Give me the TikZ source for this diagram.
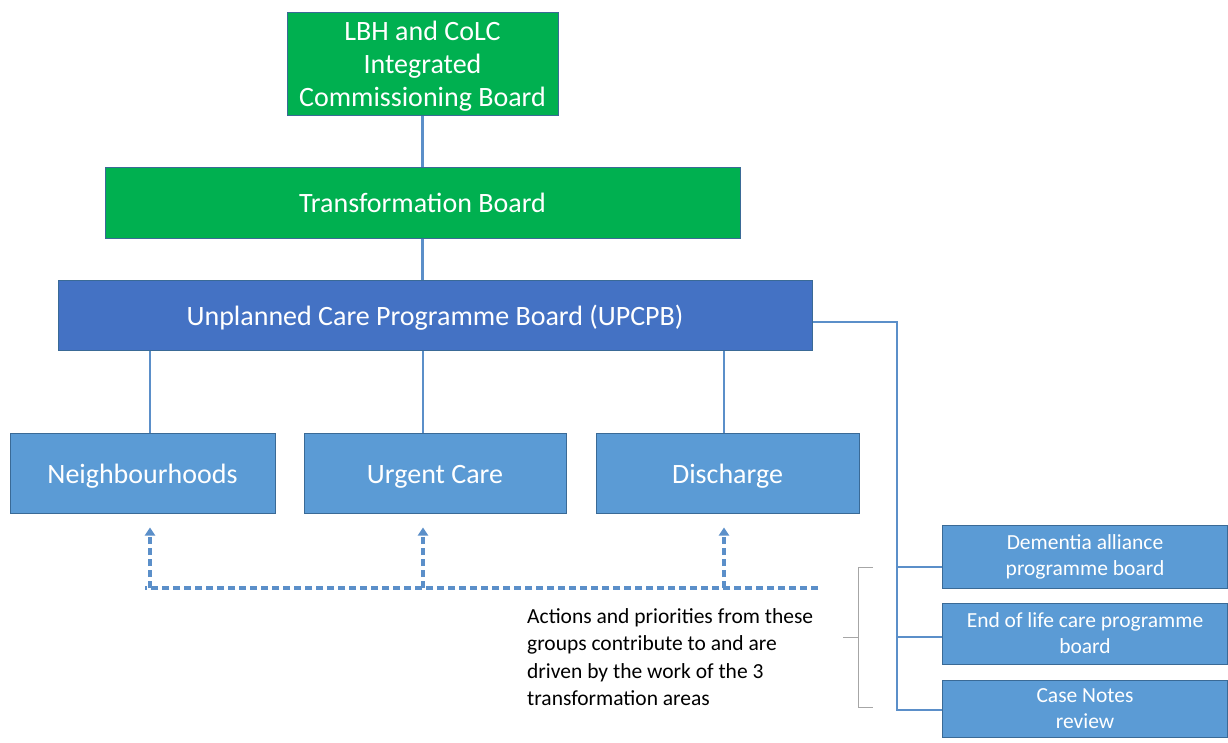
\documentclass[tikz,border=0pt]{standalone}
\usepackage{fontspec}
\setmainfont{Carlito}
\usetikzlibrary{positioning,arrows.meta}

\definecolor{boardgreen}{HTML}{00B050}
\definecolor{upblue}{HTML}{4472C4}
\definecolor{areablue}{HTML}{5B9BD5}
\definecolor{edgeblue}{HTML}{3A6A96}
\definecolor{linkblue}{HTML}{5B8FC9}

\begin{document}
\begin{tikzpicture}[x=1pt,y=-1pt,
  box/.style={draw=edgeblue,line width=1pt,text=white,align=center,inner sep=0pt,
    font=\fontsize{28}{33}\selectfont},
  oneline/.style={text height=25pt,text depth=5pt},
  areabox/.style={box,oneline,fill=areablue,minimum width=263,minimum height=80},
  smallbox/.style={box,fill=areablue,minimum width=285,font=\fontsize{21.5}{26}\selectfont},
  link/.style={draw=linkblue,line width=2.2pt},
  feed/.style={draw=linkblue,line width=3.2pt,dash pattern=on 7.5pt off 3.5pt,
    -{Triangle[width=10pt,length=8pt]}},
  brace/.style={draw=gray!70,line width=0.7pt}]
  \useasboundingbox (0,0) rectangle (1228,742);

  % boards
  \node[box,fill=boardgreen,minimum width=271,minimum height=103,text depth=0pt] (lbh) at (422.5,63.5)
    {LBH and CoLC\\Integrated\\Commissioning Board};
  \node[box,oneline,fill=boardgreen,minimum width=635,minimum height=71] (tb) at (422.5,202.5)
    {Transformation Board};
  \node[box,oneline,fill=upblue,minimum width=754,minimum height=70] (upcpb) at (435,315)
    {Unplanned Care Programme Board (UPCPB)};

  % transformation areas
  \node[areabox,minimum width=265] (nbh) at (142.5,473) {Neighbourhoods};
  \node[areabox,minimum width=262] (urg) at (435,473) {Urgent Care};
  \node[areabox] (dis) at (727.5,473) {Discharge};

  % programme boards
  \node[smallbox,minimum height=63] (dem) at (1085,556.5) {Dementia alliance\\programme board};
  \node[smallbox,minimum height=61] (eol) at (1085,633.5) {End of life care programme\\board};
  \node[smallbox,minimum height=57] (cnr) at (1085,708.5) {Case Notes\\review};

  \node[anchor=west,align=left,inner sep=0pt,font=\fontsize{21.5}{27.3}\selectfont] (note) at (527,657)
    {Actions and priorities from these\\groups contribute to and are\\driven by the work of the 3\\transformation areas};

  \coordinate (rail) at (897,0);
  \coordinate (dashend) at (818,588);

  \draw[link] (lbh.south) -- (tb.north);
  \draw[link] (tb.south) -- (tb.south |- upcpb.north);
  \draw[link] ([xshift=7.5pt]nbh.north) -- ([xshift=7.5pt]nbh.north |- upcpb.south);
  \draw[link] ([xshift=-12pt]urg.north) -- ([xshift=-12pt]urg.north |- upcpb.south);
  \draw[link] ([xshift=-3.5pt]dis.north) -- ([xshift=-3.5pt]dis.north |- upcpb.south);

  \draw[link] ([yshift=-7pt]upcpb.east) -| ([yshift=-1.5pt]rail |- cnr.west) -- ([yshift=-1.5pt]cnr.west);
  \draw[link] ([yshift=-10.5pt]rail |- dem.west) -- ([yshift=-10.5pt]dem.west);
  \draw[link] ([yshift=-3.5pt]rail |- eol.west) -- ([yshift=-3.5pt]eol.west);

  % feedback from the groups
  \draw[feed,-] (dashend) -- (dashend -| 145,0);
  \draw[feed] ([xshift=7.5pt]nbh.south |- dashend) -- ([xshift=7.5pt,yshift=-14pt]nbh.south);
  \draw[feed] ([xshift=-12pt]urg.south |- dashend) -- ([xshift=-12pt,yshift=-14pt]urg.south);
  \draw[feed] ([xshift=-3.5pt]dis.south |- dashend) -- ([xshift=-3.5pt,yshift=-14pt]dis.south);

  \draw[brace] (873,567) -- (858,567) -- (858,707) -- (873,707);
  \draw[brace] (858,637) -- (843,637);
\end{tikzpicture}
\end{document}
